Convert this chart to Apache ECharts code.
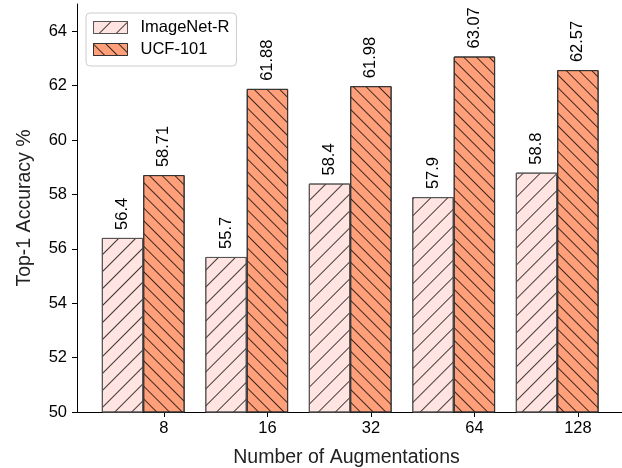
<!DOCTYPE html>
<html>
<head>
<meta charset="utf-8">
<script src="https://cdn.jsdelivr.net/npm/echarts@6/dist/echarts.min.js"></script>
<style>
html,body{margin:0;padding:0;background:#fff;}
#chart{width:622px;height:468px;}
</style>
</head>
<body>
<div id="chart"></div>
<script>
const categories = ['8', '16', '32', '64', '128'];
const imagenetR = [56.4, 55.7, 58.4, 57.9, 58.8];
const ucf101 = [58.71, 61.88, 61.98, 63.07, 62.57];
const yTicks = [50, 52, 54, 56, 58, 60, 62, 64];
const seriesNames = ['ImageNet-R', 'UCF-101'];

const FONT = '"Liberation Sans", Arial, sans-serif';
const tickPos = categories.map((c, i) => i + 0.2);

const chart = echarts.init(document.getElementById('chart'), null, {renderer: 'canvas'});

function labelFmt(p) { return String(p.value[1]); }

chart.setOption({
  animation: false,
  textStyle: {fontFamily: FONT},
  grid: {left: 77, top: 4, bottom: 56, right: -30, containLabel: false, outerBoundsMode: 'none'},
  legend: {
    left: 86, top: 13,
    orient: 'vertical',
    itemWidth: 34, itemHeight: 12, itemGap: 5,
    padding: [6, 7, 8, 7],
    borderColor: '#cccccc', borderWidth: 1, borderRadius: 4,
    backgroundColor: '#fff',
    itemStyle: {borderWidth: 1},
    textStyle: {fontFamily: FONT, fontSize: 16.5, lineHeight: 17, color: '#000', padding: [0, 0, 0, 8]},
    icon: 'rect',
    data: seriesNames
  },
  xAxis: {
    type: 'value', min: -0.64, max: 4.916,
    name: 'Number of Augmentations', nameLocation: 'middle', nameGap: 36,
    nameTextStyle: {fontFamily: FONT, fontSize: 19.5, color: '#222', padding: [0, 36, 0, 0]},
    axisLine: {show: true, onZero: false, lineStyle: {color: '#000', width: 1}},
    axisTick: {show: true, length: 5, lineStyle: {color: '#000'}, customValues: tickPos},
    axisLabel: {fontFamily: FONT, fontSize: 16.5, color: '#000', margin: 8, customValues: tickPos,
      formatter: v => categories[Math.round(v - 0.2)]},
    splitLine: {show: false}
  },
  yAxis: {
    type: 'value', min: 50, max: 65,
    name: 'Top-1 Accuracy %', nameLocation: 'middle', nameGap: 42,
    nameTextStyle: {fontFamily: FONT, fontSize: 19.5, color: '#222'},
    axisLine: {show: true, onZero: false, lineStyle: {color: '#000', width: 1}},
    axisTick: {show: true, length: 5, lineStyle: {color: '#000'}, customValues: yTicks},
    axisLabel: {fontFamily: FONT, fontSize: 16.5, color: '#000', margin: 10, customValues: yTicks},
    splitLine: {show: false}
  },
  series: [
    {
      name: seriesNames[0], type: 'bar', barWidth: 41.4, barGap: '0%',
      data: imagenetR.map((v, i) => [i, v]),
      itemStyle: {
        color: '#FFE4E1', borderColor: '#555', borderWidth: 1,
        decal: {symbol: 'rect', symbolSize: 1, color: 'rgba(0,0,0,0.75)',
          dashArrayX: [1, 0], dashArrayY: [1, 11], rotation: -Math.PI / 4}
      },
      label: {show: true, position: 'top', rotate: 90, align: 'left', verticalAlign: 'middle',
        distance: 8, fontFamily: FONT, fontSize: 16.5, color: '#000', formatter: labelFmt}
    },
    {
      name: seriesNames[1], type: 'bar', barWidth: 41.4, barGap: '0%',
      data: ucf101.map((v, i) => [i, v]),
      itemStyle: {
        color: '#FFA07A', borderColor: '#333', borderWidth: 1,
        decal: {symbol: 'rect', symbolSize: 1, color: 'rgba(0,0,0,0.75)',
          dashArrayX: [1, 0], dashArrayY: [1, 7.5], rotation: Math.PI / 4}
      },
      label: {show: true, position: 'top', rotate: 90, align: 'left', verticalAlign: 'middle',
        distance: 8, fontFamily: FONT, fontSize: 16.5, color: '#000', formatter: labelFmt}
    }
  ]
});
</script>
</body>
</html>
